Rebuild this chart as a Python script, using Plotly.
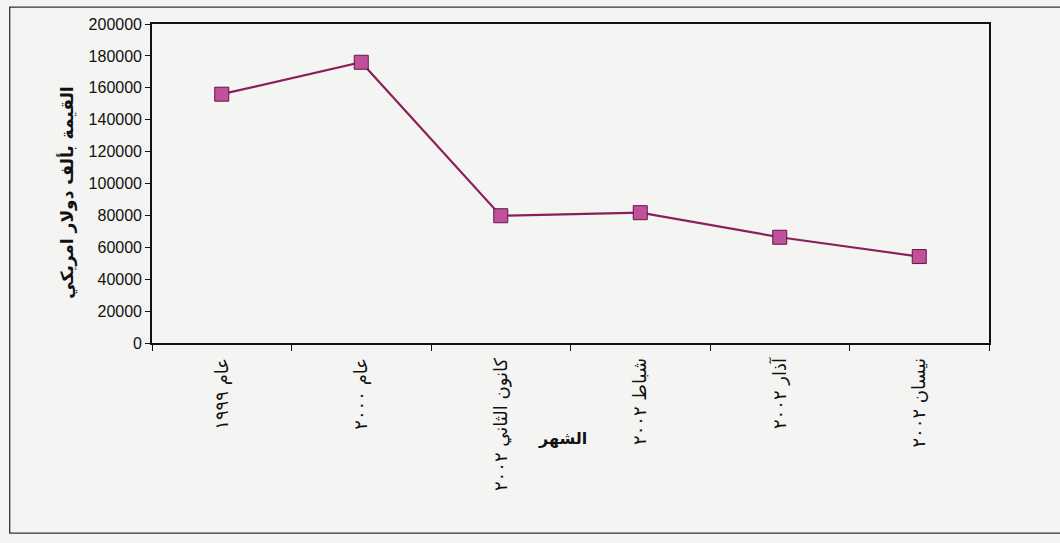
import plotly.graph_objects as go

# Monthly / yearly values (thousand US dollars)
months = ["عام ١٩٩٩", "عام ٢٠٠٠", "كانون الثاني ٢٠٠٢", "شباط ٢٠٠٢", "آذار ٢٠٠٢", "نيسان ٢٠٠٢"]
values = [156000, 176000, 79800, 81700, 66300, 54200]

y_ticks = [0, 20000, 40000, 60000, 80000, 100000, 120000, 140000, 160000, 180000, 200000]

y_title = "القيمة بألف دولار امريكي"
x_title = "الشهر"

LINE = "#8a1f5c"
FILL = "#c2509c"
EDGE = "#5c1a42"
BG = "#f4f4f2"

fig = go.Figure(
    go.Scatter(
        x=months,
        y=values,
        mode="lines+markers",
        line=dict(color=LINE, width=2.2),
        marker=dict(symbol="square", size=14, color=FILL, line=dict(color=EDGE, width=1)),
        hoverinfo="x+y",
    )
)

fig.update_layout(
    width=1060,
    height=543,
    margin=dict(l=152, r=71, t=24, b=200),
    paper_bgcolor=BG,
    plot_bgcolor=BG,
    showlegend=False,
    font=dict(family="Liberation Sans, Arial, sans-serif", color="#111111"),
)

fig.update_xaxes(
    type="category",
    range=[-0.5, len(months) - 0.5],
    showgrid=False,
    zeroline=False,
    showline=True,
    linecolor="#111111",
    linewidth=1.6,
    mirror=True,
    ticks="outside",
    tickson="boundaries",
    ticklen=6,
    tickcolor="#111111",
    tickangle=-90,
    ticklabelstandoff=6,
    tickfont=dict(family="DejaVu Sans, sans-serif", size=18, color="#111111"),
)

fig.update_yaxes(
    range=[0, 200000],
    tickvals=y_ticks,
    ticktext=[str(v) for v in y_ticks],
    showgrid=False,
    zeroline=False,
    showline=True,
    linecolor="#111111",
    linewidth=1.6,
    mirror=True,
    ticks="outside",
    ticklen=5,
    tickcolor="#111111",
    tickfont=dict(family="Liberation Sans, Arial, sans-serif", size=16, color="#111111"),
)

# Axis titles
fig.add_annotation(
    text="<b>" + y_title + "</b>",
    xref="paper", yref="paper",
    x=-0.102, y=0.47,
    xanchor="center", yanchor="middle",
    textangle=-90,
    showarrow=False,
    font=dict(family="DejaVu Sans, sans-serif", size=17, color="#111111"),
)
fig.add_annotation(
    text="<b>" + x_title + "</b>",
    xref="paper", yref="paper",
    x=0.491, y=-0.298,
    xanchor="center", yanchor="middle",
    showarrow=False,
    font=dict(family="DejaVu Sans, sans-serif", size=16, color="#111111"),
)

# Outer chart frame
fig.add_shape(
    type="rect",
    xref="paper", yref="paper",
    x0=-0.17, x1=1.2, y0=-0.596, y1=1.053,
    line=dict(color="#333333", width=1.3),
    fillcolor="rgba(0,0,0,0)",
    layer="below",
)

fig.write_html("out.html")
